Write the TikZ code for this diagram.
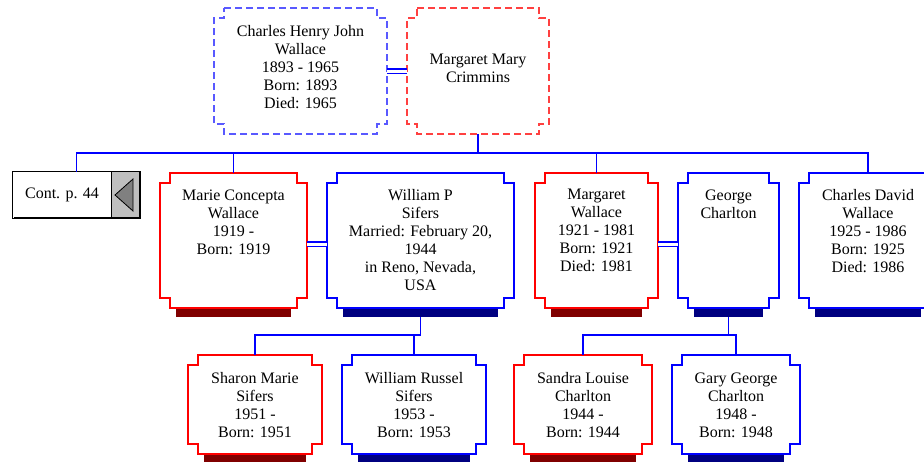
\documentclass[tikz,border=0pt]{standalone}
\usepackage{fontspec}
\setmainfont{Liberation Serif}

\definecolor{shadered}{RGB}{128,0,0}
\definecolor{shadeblue}{RGB}{0,0,128}

\tikzset{
  card/.style={draw=none,rectangle,inner sep=0pt},
  cardtext/.style={font=\fontsize{16}{18}\selectfont,align=center,inner sep=0pt,anchor=north},
  redcard/.style={draw=red,line width=1.8pt},
  bluecard/.style={draw=blue,line width=1.8pt},
  redparent/.style={draw=red!75,line width=1.2pt,dash pattern=on 7pt off 4pt},
  blueparent/.style={draw=blue!65,line width=1.2pt,dash pattern=on 7pt off 4pt},
  famline/.style={draw=blue,line width=1.6pt},
  wedline/.style={draw=blue,line width=1.3pt,double=white,double distance=3pt},
}

% notched card: name, outline style, left, top, right, bottom
\newcommand{\cardbox}[6]{%
  \node[card,minimum width={#5-#3},minimum height={#6-#4}] (#1) at ({(#3+#5)/2},{(#4+#6)/2}) {};
  \draw[#2] (#3+10,#4) -- (#5-10,#4) -- (#5-10,#4+10) -- (#5,#4+10) -- (#5,#6-10) -- (#5-10,#6-10)
    -- (#5-10,#6) -- (#3+10,#6) -- (#3+10,#6-10) -- (#3,#6-10) -- (#3,#4+10) -- (#3+10,#4+10) -- cycle;
}

\begin{document}
\begin{tikzpicture}[x=1pt,y=-1pt]
\useasboundingbox (0,0) rectangle (924,461);
\clip (0,0) rectangle (924,461);

% parents
\cardbox{charles}{blueparent}{214}{8}{387}{134}
\cardbox{margmary}{redparent}{407}{8}{549}{134}
% children
\cardbox{marie}{redcard}{160}{173}{307}{308}
\cardbox{william}{bluecard}{327}{173}{514}{308}
\cardbox{margaret}{redcard}{535}{173}{658}{308}
\cardbox{george}{bluecard}{678}{173}{779}{308}
\cardbox{charlesd}{bluecard}{799}{173}{937}{308}
% grandchildren
\cardbox{sharon}{redcard}{188}{355}{322}{454}
\cardbox{williamr}{bluecard}{342}{355}{486}{454}
\cardbox{sandra}{redcard}{514}{355}{652}{454}
\cardbox{gary}{bluecard}{672}{355}{800}{454}

\node[cardtext] (charles-t) at ([yshift=-17.5pt]charles.north) {Charles Henry John\\Wallace\\1893 - 1965\\Born: 1893\\Died: 1965};
\node[cardtext] (margmary-t) at ([yshift=-46.5pt]margmary.north) {Margaret Mary\\Crimmins};
\node[cardtext] (marie-t) at ([yshift=-16.5pt]marie.north) {Marie Concepta\\Wallace\\1919 -\\Born: 1919};
\node[cardtext] (william-t) at ([yshift=-16.5pt]william.north) {William P\\Sifers\\Married: February 20,\\1944\\in Reno, Nevada,\\USA};
\node[cardtext] (margaret-t) at ([yshift=-16.5pt]margaret.north) {Margaret\\Wallace\\1921 - 1981\\Born: 1921\\Died: 1981};
\node[cardtext] (george-t) at ([yshift=-16.5pt]george.north) {George\\Charlton};
\node[cardtext] (charlesd-t) at ([yshift=-16.5pt]charlesd.north) {Charles David\\Wallace\\1925 - 1986\\Born: 1925\\Died: 1986};
\node[cardtext] (sharon-t) at ([yshift=-17.5pt]sharon.north) {Sharon Marie\\Sifers\\1951 -\\Born: 1951};
\node[cardtext] (williamr-t) at ([yshift=-17.5pt]williamr.north) {William Russel\\Sifers\\1953 -\\Born: 1953};
\node[cardtext] (sandra-t) at ([yshift=-17.5pt]sandra.north) {Sandra Louise\\Charlton\\1944 -\\Born: 1944};
\node[cardtext] (gary-t) at ([yshift=-17.5pt]gary.north) {Gary George\\Charlton\\1948 -\\Born: 1948};

% continuation box
\node[card,minimum width=127pt,minimum height=46pt] (cont) at (76.5,195) {};
\fill[gray!50] ([xshift=-29pt]cont.north east) rectangle (cont.south east);
\draw[black,line width=1.2pt] (cont.north west) rectangle (cont.south east);
\draw[black,line width=2.5pt] (cont.north east) -- (cont.south east) -- ([xshift=1pt]cont.south west);
\draw[black,line width=1pt] ([xshift=-29pt]cont.north east) -- ([xshift=-29pt]cont.south east);
\draw[black,fill=gray,line width=0.8pt] (115,195) -- (133,179) -- (133,211) -- cycle;
\node[cardtext,anchor=center] (cont-t) at (62,195) {Cont. p. 44};

% marriages
\draw[wedline] (charles.east) -- (margmary.west);
\draw[wedline] ([yshift=-3.5pt]marie.east) -- ([yshift=-3.5pt]william.west);
\draw[wedline] ([yshift=-3.5pt]margaret.east) -- ([yshift=-3.5pt]george.west);

% family lines
\coordinate (bus-w) at ([yshift=-19pt]margmary.south);
\draw[famline] (margmary.south) -- (bus-w);
\draw[famline] (cont.north) |- (bus-w);
\draw[famline] (marie.north) |- (bus-w);
\draw[famline] (margaret.north) |- (bus-w);
\draw[famline] (charlesd.north) |- (bus-w);

\coordinate (bus-s) at ([yshift=-27pt]william.south);
\draw[famline] (william.south) -- (bus-s);
\draw[famline] (sharon.north) |- (bus-s);
\draw[famline] (williamr.north) |- (bus-s);

\coordinate (bus-c) at ([yshift=-27pt]george.south);
\draw[famline] (george.south) -- (bus-c);
\draw[famline] (sandra.north) |- (bus-c);
\draw[famline] (gary.north) |- (bus-c);

% shadows
\fill[shadered] ([xshift=16pt,yshift=-1pt]marie.south west) rectangle ([xshift=-16pt,yshift=-9pt]marie.south east);
\fill[shadeblue] ([xshift=16pt,yshift=-1pt]william.south west) rectangle ([xshift=-16pt,yshift=-9pt]william.south east);
\fill[shadered] ([xshift=16pt,yshift=-1pt]margaret.south west) rectangle ([xshift=-16pt,yshift=-9pt]margaret.south east);
\fill[shadeblue] ([xshift=16pt,yshift=-1pt]george.south west) rectangle ([xshift=-16pt,yshift=-9pt]george.south east);
\fill[shadeblue] ([xshift=16pt,yshift=-1pt]charlesd.south west) rectangle ([xshift=-16pt,yshift=-9pt]charlesd.south east);
\fill[shadered] ([xshift=16pt,yshift=-1pt]sharon.south west) rectangle ([xshift=-16pt,yshift=-9pt]sharon.south east);
\fill[shadeblue] ([xshift=16pt,yshift=-1pt]williamr.south west) rectangle ([xshift=-16pt,yshift=-9pt]williamr.south east);
\fill[shadered] ([xshift=16pt,yshift=-1pt]sandra.south west) rectangle ([xshift=-16pt,yshift=-9pt]sandra.south east);
\fill[shadeblue] ([xshift=16pt,yshift=-1pt]gary.south west) rectangle ([xshift=-16pt,yshift=-9pt]gary.south east);

\end{tikzpicture}
\end{document}
